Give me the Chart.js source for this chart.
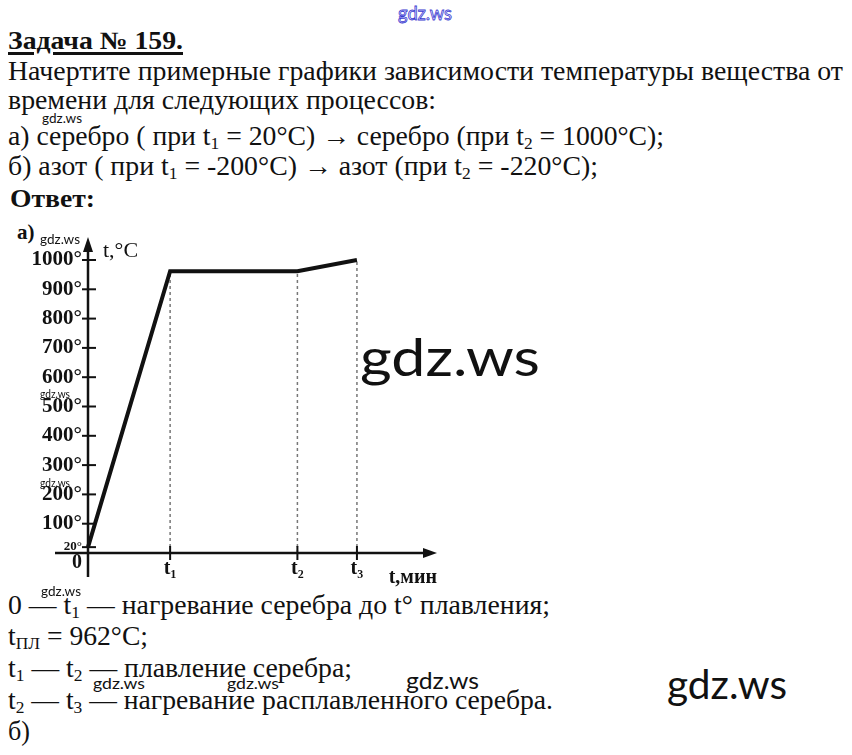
<!DOCTYPE html>
<html lang="ru">
<head>
<meta charset="utf-8">
<script src="https://cdn.jsdelivr.net/npm/chart.js@4"></script>
<style>
  html, body { margin: 0; padding: 0; background: #fff; }
  body { position: relative; width: 852px; height: 755px; overflow: hidden; color: #111;
         font-family: "Liberation Serif", "Times New Roman", serif; }
  .ln { position: absolute; left: 8px; font-size: 27px; line-height: 1; white-space: nowrap; transform-origin: 0 0; }
  .ln sub { font-size: 17px; vertical-align: -4px; line-height: 0; }
  .b { font-weight: bold; }
  .wm { position: absolute; font-family: Lato, "Open Sans", sans-serif; white-space: nowrap; line-height: 1; color: #111; transform-origin: 0 0; }
  #chartBox { position: absolute; left: 0; top: 215px; width: 450px; height: 375px; }
</style>
</head>
<body>

<div class="wm" data-w="54" style="left:398px; top:3px; font-size:19px; color:#e4e5ff; -webkit-text-stroke:0.8px #3b3bd0;">gdz.ws</div>

<div class="ln b" data-w="175" style="top:28px; font-size:25px; text-decoration:underline; text-decoration-thickness:3px; text-underline-offset:3px;">Задача № 159.</div>
<div class="ln" data-w="835" style="top:58px;">Начертите примерные графики зависимости температуры вещества от</div>
<div class="ln" data-w="428" style="top:87px;">времени для следующих процессов:</div>
<div class="ln" data-w="656" style="top:123px;">а) серебро ( при t<sub>1</sub> = 20°С) → серебро (при t<sub>2</sub> = 1000°С);</div>
<div class="ln" data-w="590" style="top:153px;">б) азот ( при t<sub>1</sub> = -200°С) → азот (при t<sub>2</sub> = -220°С);</div>
<div class="ln b" data-w="85" style="top:186px; left:10px; font-size:26px;">Ответ:</div>
<div class="ln b" style="top:222px; left:17px; font-size:21px;">а)</div>

<div id="chartBox"><canvas id="heating" width="450" height="375"></canvas></div>

<div class="ln" data-w="542" style="top:592px;">0 — t<sub>1</sub> — нагревание серебра до t° плавления;</div>
<div class="ln" data-w="140" style="top:623px;">t<sub>ПЛ</sub> = 962°С;</div>
<div class="ln" data-w="344" style="top:655px;">t<sub>1</sub> — t<sub>2</sub> — плавление серебра;</div>
<div class="ln" data-w="545" style="top:687px;">t<sub>2</sub> — t<sub>3</sub> — нагревание расплавленного серебра.</div>
<div class="ln" data-w="22" style="top:718px;">б)</div>

<div class="wm" data-w="40" style="left:42px; top:111px; font-size:14px;">gdz.ws</div>
<div class="wm" data-w="40" style="left:40px; top:232px; font-size:14px;">gdz.ws</div>
<div class="wm" data-w="30" style="left:40px; top:388px; font-size:11px;">gdz.ws</div>
<div class="wm" data-w="30" style="left:40px; top:477px; font-size:11px;">gdz.ws</div>
<div class="wm" data-w="40" style="left:41px; top:584px; font-size:14px;">gdz.ws</div>
<div class="wm" data-w="52" style="left:93px; top:676px; font-size:15px;">gdz.ws</div>
<div class="wm" data-w="52" style="left:227px; top:676px; font-size:15px;">gdz.ws</div>
<div class="wm" data-w="73" style="left:406px; top:668px; font-size:24px;">gdz.ws</div>
<div class="wm" data-w="180" style="left:360px; top:330px; font-size:52px;">gdz.ws</div>
<div class="wm" data-w="120" style="left:667px; top:664px; font-size:40px;">gdz.ws</div>

<script>
// точки графика: время (усл. ед.) и температура, °C
var timePoints = [0, 4, 10.2, 13.1];
var tempPoints = [20, 962, 962, 1000];

// подписи осей
var tempTicks = [20, 100, 200, 300, 400, 500, 600, 700, 800, 900, 1000];
var timeTicks = [4, 10.2, 13.1];
var timeTickLabels = ["t₁", "t₂", "t₃"];

// выравнивание строк текста по ширине скана
document.querySelectorAll("[data-w]").forEach(function (el) {
  var w = el.getBoundingClientRect().width;
  el.style.transform = "scaleX(" + (Number(el.getAttribute("data-w")) / w) + ")";
});

var serif = "'Liberation Serif', 'Times New Roman', serif";
Chart.defaults.font.family = serif;
Chart.defaults.color = "#111";

var mainLine = [];
for (var i = 0; i < timePoints.length; i++) {
  mainLine.push({ x: timePoints[i], y: tempPoints[i] });
}

var datasets = [
  {
    data: mainLine,
    showLine: true,
    borderColor: "#111",
    borderWidth: 4,
    pointRadius: 0,
    borderJoinStyle: "miter",
    clip: false,
    order: 0,
  },
];

// пунктирные вертикали t1, t2, t3
for (var j = 1; j < timePoints.length; j++) {
  datasets.push({
    data: [
      { x: timePoints[j], y: 0 },
      { x: timePoints[j], y: tempPoints[j] },
    ],
    showLine: true,
    borderColor: "#777",
    borderWidth: 1.5,
    borderDash: [3, 3],
    pointRadius: 0,
    clip: false,
    order: 1,
  });
}

var axesPlugin = {
  id: "axes",
  afterDraw: function (chart) {
    var ctx = chart.ctx;
    var sx = chart.scales.x;
    var sy = chart.scales.y;
    var area = chart.chartArea;
    var x0 = sx.getPixelForValue(0);
    var y0 = sy.getPixelForValue(0);

    ctx.save();
    ctx.strokeStyle = "#111";
    ctx.fillStyle = "#111";
    ctx.lineWidth = 2.5;

    // ось температуры
    ctx.beginPath();
    ctx.moveTo(x0, y0 + 24);
    ctx.lineTo(x0, area.top - 14);
    ctx.stroke();
    ctx.beginPath();
    ctx.moveTo(x0, area.top - 23);
    ctx.lineTo(x0 - 5, area.top - 8);
    ctx.lineTo(x0 + 5, area.top - 8);
    ctx.closePath();
    ctx.fill();

    // ось времени
    ctx.beginPath();
    ctx.moveTo(x0 - 33, y0);
    ctx.lineTo(area.right - 8, y0);
    ctx.stroke();
    ctx.beginPath();
    ctx.moveTo(area.right, y0);
    ctx.lineTo(area.right - 14, y0 - 5);
    ctx.lineTo(area.right - 14, y0 + 5);
    ctx.closePath();
    ctx.fill();

    // засечки
    ctx.lineWidth = 2;
    tempTicks.forEach(function (v) {
      var py = sy.getPixelForValue(v);
      ctx.beginPath();
      ctx.moveTo(x0 - 6, py);
      ctx.lineTo(x0 + 8, py);
      ctx.stroke();
    });
    timeTicks.forEach(function (v) {
      var px = sx.getPixelForValue(v);
      ctx.beginPath();
      ctx.moveTo(px, y0 - 7);
      ctx.lineTo(px, y0 + 7);
      ctx.stroke();
    });

    ctx.font = "bold 20px " + serif;
    ctx.textAlign = "right";
    ctx.textBaseline = "middle";
    ctx.fillText("0", x0 - 6, y0 + 10);

    ctx.font = "22px " + serif;
    ctx.textAlign = "left";
    ctx.fillText("t,°C", x0 + 15, area.top - 9);
    ctx.restore();
  },
};

new Chart(document.getElementById("heating"), {
  type: "scatter",
  data: { datasets: datasets },
  options: {
    responsive: false,
    animation: false,
    events: [],
    layout: { padding: { left: 0, top: 45, right: 13, bottom: 0 } },
    plugins: {
      legend: { display: false },
      tooltip: { enabled: false },
    },
    scales: {
      x: {
        type: "linear",
        min: 0,
        max: 17,
        grid: { display: false, drawTicks: false },
        border: { display: false },
        afterBuildTicks: function (scale) {
          scale.ticks = timeTicks.map(function (v) { return { value: v }; });
        },
        afterFit: function (scale) { scale.height = 37; },
        ticks: {
          padding: 4,
          font: { size: 20, weight: "bold" },
          callback: function (value, index) { return timeTickLabels[index]; },
        },
        title: {
          display: true,
          text: "t,мин",
          align: "end",
          font: { size: 20, weight: "bold" },
          padding: 0,
        },
      },
      y: {
        type: "linear",
        min: 0,
        max: 1000,
        grid: { display: false, drawTicks: false },
        border: { display: false },
        afterBuildTicks: function (scale) {
          scale.ticks = tempTicks.map(function (v) { return { value: v }; });
        },
        afterFit: function (scale) { scale.width = 88; },
        ticks: {
          padding: 6,
          font: function (c) {
            if (c.tick && c.tick.value === 20) return { size: 13, weight: "bold" };
            return { size: 21, weight: "bold" };
          },
          callback: function (value) { return value + "°"; },
        },
      },
    },
  },
  plugins: [axesPlugin],
});
</script>
</body>
</html>
